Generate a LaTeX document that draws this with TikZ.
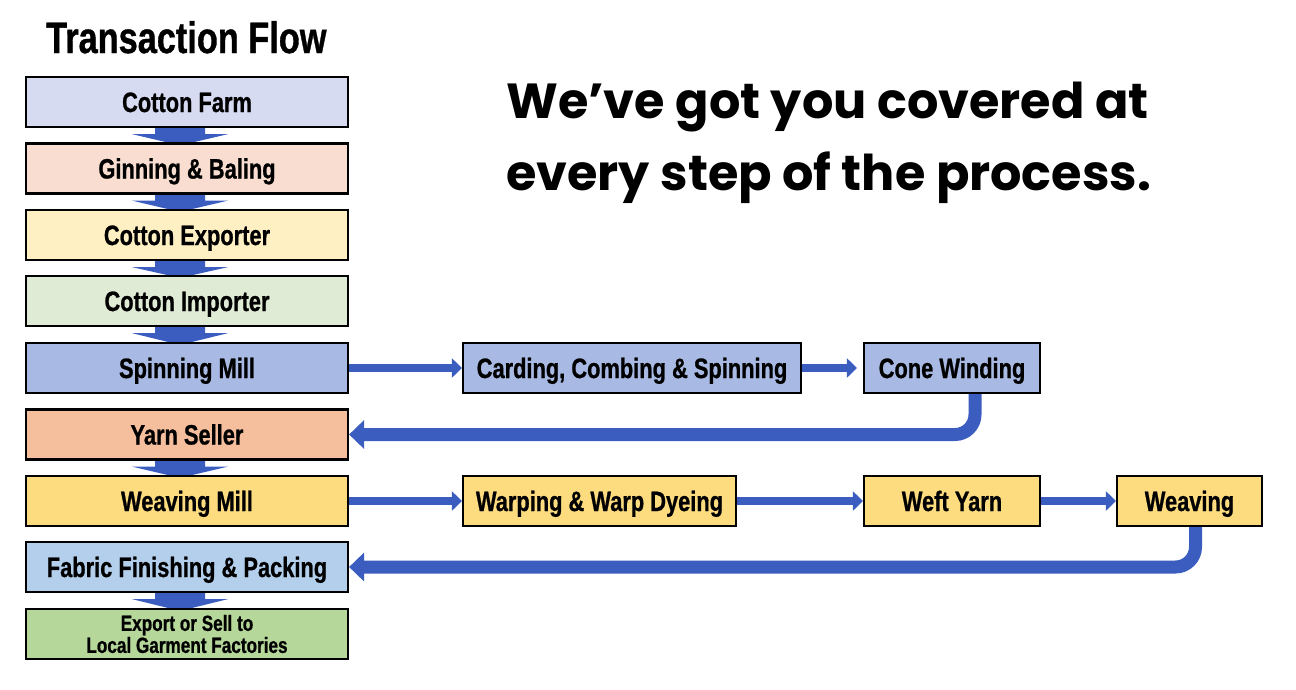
\documentclass[tikz,border=0pt]{standalone}
\usepackage{fontspec}
\newfontfamily\condfont{Liberation Sans}[FakeStretch=0.78, FakeBold=0.8]
\newfontfamily\headfont{Poppins}
\usetikzlibrary{arrows.meta}
\pgfdeclarelayer{bg}
\pgfsetlayers{bg,main}
\definecolor{arrowblue}{HTML}{3B5DBF}
\definecolor{cfarm}{HTML}{D6DBF2}
\definecolor{cgin}{HTML}{F8DDD0}
\definecolor{cexp}{HTML}{FFF0C4}
\definecolor{cimp}{HTML}{E0EBD6}
\definecolor{cspin}{HTML}{A8BAE3}
\definecolor{cyarn}{HTML}{F5BE9C}
\definecolor{cweave}{HTML}{FDDC80}
\definecolor{cfab}{HTML}{B3CFEC}
\definecolor{cgreen}{HTML}{B6D79A}
\begin{document}
\begin{tikzpicture}[x=1pt,y=-1pt,
  boxbase/.style={draw=black, line width=2.2pt, minimum height=50pt, inner sep=0pt,
    font=\condfont\bfseries\fontsize{28}{30}\selectfont, text=black},
  box/.style={boxbase, text height=20pt, text depth=0pt},
  leftbox/.style={box, minimum width=322pt},
  downarr/.style={fill=arrowblue},
  rightarr/.style={draw=arrowblue, line width=8pt,
    -{Triangle[length=10pt 0 0, width=19pt 0 0]}},
  backarr/.style={draw=arrowblue, line width=13pt, rounded corners=20pt,
    -{Triangle[length=15pt 0 0, width=28pt 0 0]}},
  headtext/.style={font=\headfont\bfseries\fontsize{49.3}{58}\selectfont, text=black, inner sep=0pt, anchor=base west}
]
\useasboundingbox (0,0) rectangle (1296,689);

\node[anchor=base west, inner sep=0pt, font=\condfont\bfseries\fontsize{44}{48}\selectfont] (title) at (46,53) {Transaction Flow};

\node[headtext] (h1) at (506,118) {We’ve got you covered at};
\node[headtext] (h2) at (506,190) {every step of the process.};

\node[leftbox, fill=cfarm] (farm) at (187,102) {Cotton Farm};
\node[leftbox, fill=cgin] (gin) at (187,168.5) {Ginning \& Baling};
\node[leftbox, fill=cexp] (exp) at (187,235) {Cotton Exporter};
\node[leftbox, fill=cimp] (imp) at (187,301) {Cotton Importer};
\node[leftbox, fill=cspin] (spin) at (187,368) {Spinning Mill};
\node[leftbox, fill=cyarn] (yarn) at (187,434.5) {Yarn Seller};
\node[leftbox, fill=cweave] (wmill) at (187,501) {Weaving Mill};
\node[leftbox, fill=cfab] (fab) at (187,567) {Fabric Finishing \& Packing};
\node[boxbase, minimum width=322pt, fill=cgreen, align=center,
  font=\condfont\bfseries\fontsize{22}{22}\selectfont] (out) at (187,634) {Export or Sell to\\Local Garment Factories};

\node[box, fill=cspin, minimum width=338pt] (card) at (632,368) {Carding, Combing \& Spinning};
\node[box, fill=cspin, minimum width=176pt] (cone) at (952,368) {Cone Winding};
\node[box, fill=cweave, minimum width=273pt] (warp) at (599.5,501) {Warping \& Warp Dyeing};
\node[box, fill=cweave, minimum width=176pt] (weft) at (952,501) {Weft Yarn};
\node[box, fill=cweave, minimum width=145pt] (weav) at (1189.5,501) {Weaving};

\begin{pgfonlayer}{bg}
\fill[white] (0,0) rectangle (1296,689);
\foreach \a/\b in {farm/gin, gin/exp, exp/imp, imp/spin, yarn/wmill, fab/out}{
  \fill[downarr] ([xshift=-32pt]\a.south) -- ([xshift=18pt]\a.south)
    -- ([xshift=18pt,yshift=-6pt]\a.south) -- ([xshift=41pt,yshift=-6pt]\a.south)
    -- ([xshift=-7pt,yshift=-3pt]\b.north)
    -- ([xshift=-55pt,yshift=-6pt]\a.south) -- ([xshift=-32pt,yshift=-6pt]\a.south) -- cycle;
}
\draw[rightarr] (spin.east) -- (card.west);
\draw[rightarr] (card.east) -- ([xshift=-6pt]cone.west);
\draw[rightarr] (wmill.east) -- (warp.west);
\draw[rightarr] (warp.east) -- (weft.west);
\draw[rightarr] (weft.east) -- (weav.west);
\draw[backarr] ([xshift=23pt]cone.south) |- (yarn.east);
\draw[backarr] ([xshift=6pt]weav.south) |- (fab.east);
\end{pgfonlayer}
\end{tikzpicture}
\end{document}
